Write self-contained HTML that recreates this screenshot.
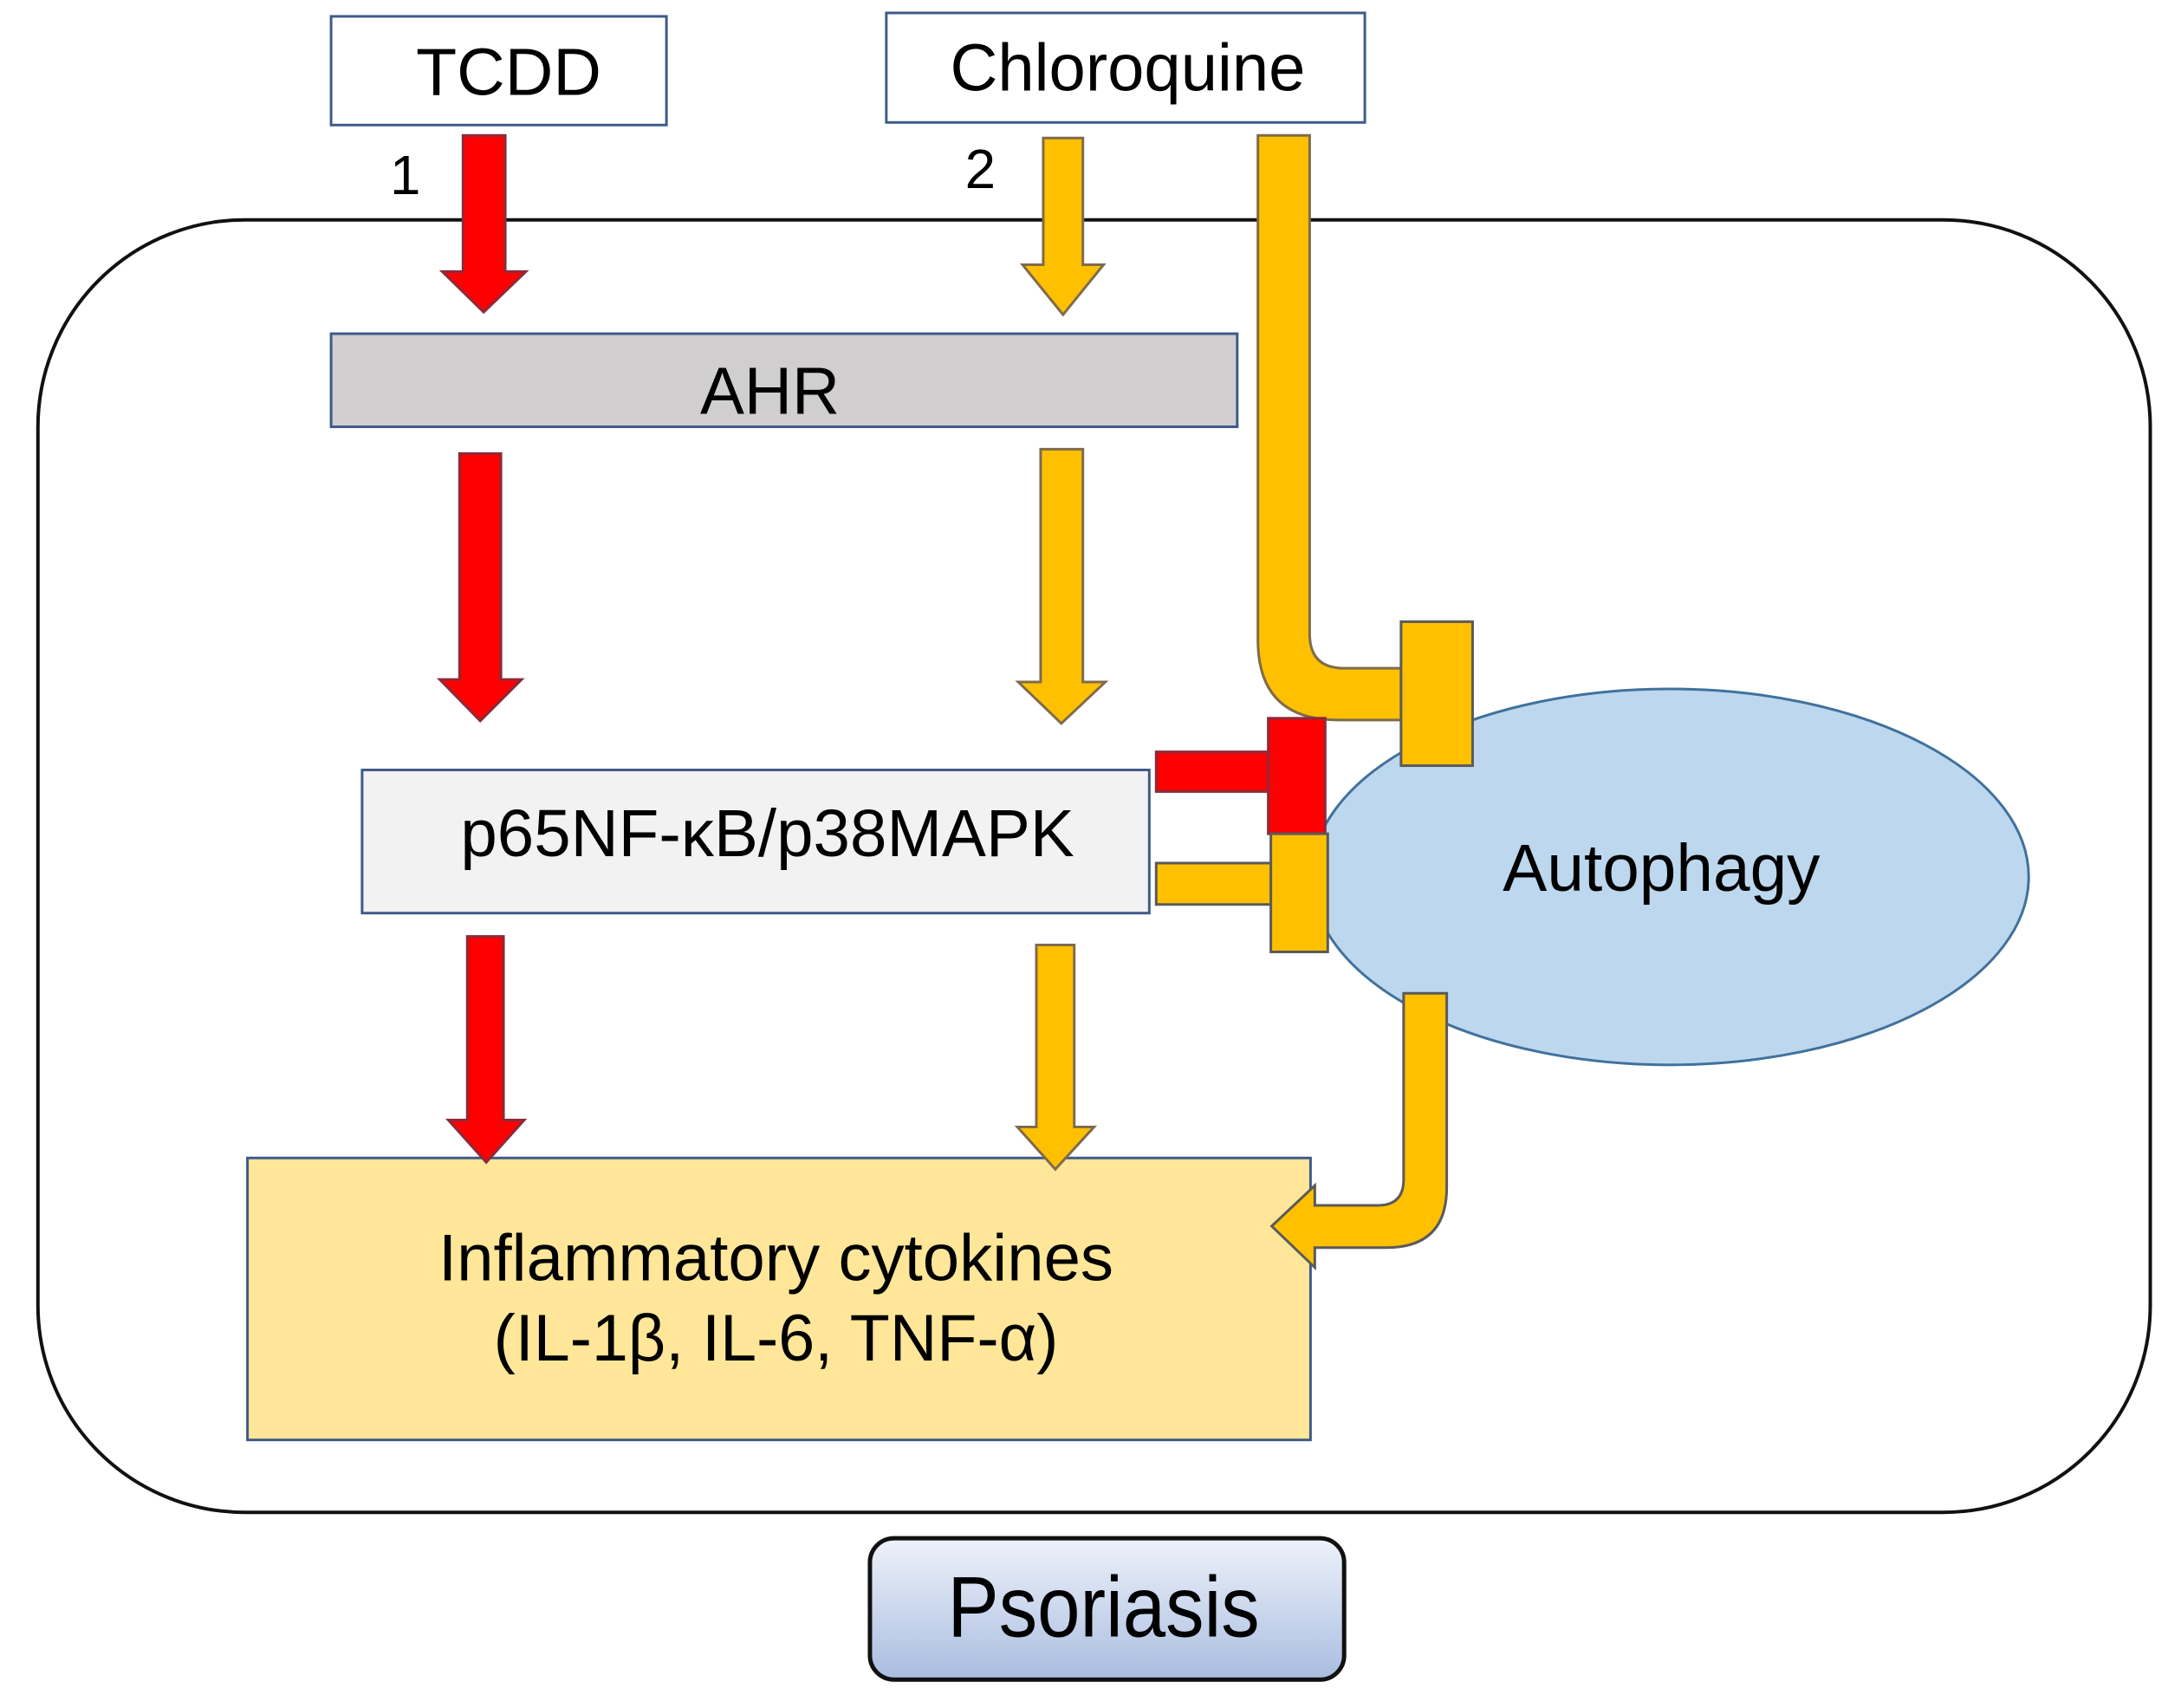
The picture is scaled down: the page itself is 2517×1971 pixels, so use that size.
<!DOCTYPE html>
<html><head><meta charset="utf-8"><style>
html,body{margin:0;padding:0;background:#fff;}
svg{display:block;}
text{font-family:"Liberation Sans",Arial,sans-serif;fill:#000;}
</style></head><body>
<svg width="2517" height="1971" viewBox="0 0 2517 1971" xmlns="http://www.w3.org/2000/svg">
<defs>
<linearGradient id="pg" x1="0" y1="0" x2="0" y2="1">
<stop offset="0" stop-color="#eef2fa"/><stop offset="1" stop-color="#a9bde0"/>
</linearGradient>
</defs>
<g transform="scale(0.995)">
<rect x="44" y="255" width="2450" height="1499" rx="240" ry="240" fill="none" stroke="#111" stroke-width="4"/>
<rect x="384" y="19" width="389" height="126" fill="#fff" stroke="#3f5a8a" stroke-width="3"/>
<text x="590" y="110" font-size="77" text-anchor="middle" textLength="215" lengthAdjust="spacingAndGlyphs">TCDD</text>
<rect x="1028" y="15" width="555" height="127" fill="#fff" stroke="#3f5a8a" stroke-width="3"/>
<text x="1308" y="105" font-size="77" text-anchor="middle" textLength="412" lengthAdjust="spacingAndGlyphs">Chloroquine</text>
<text x="470" y="225" font-size="64" text-anchor="middle">1</text>
<text x="1137" y="218" font-size="64" text-anchor="middle">2</text>
<rect x="384" y="387" width="1051" height="108" fill="#d0cece" stroke="#3f5a8a" stroke-width="3"/>
<text x="893" y="480" font-size="77" text-anchor="middle" textLength="162" lengthAdjust="spacingAndGlyphs">AHR</text>
<rect x="420" y="893" width="913" height="166" fill="#f2f2f2" stroke="#3f5a8a" stroke-width="3"/>
<text x="890" y="993" font-size="77" text-anchor="middle" textLength="712" lengthAdjust="spacingAndGlyphs">p65NF-κB/p38MAPK</text>
<rect x="287" y="1343" width="1233" height="327" fill="#ffe699" stroke="#3f5a8a" stroke-width="3"/>
<text x="900" y="1485" font-size="76" text-anchor="middle" textLength="783" lengthAdjust="spacingAndGlyphs">Inflammatory cytokines</text>
<text x="900" y="1578" font-size="76" text-anchor="middle" textLength="655" lengthAdjust="spacingAndGlyphs">(IL-1β, IL-6, TNF-α)</text>
<ellipse cx="1937" cy="1017" rx="416" ry="218" fill="#bdd7ee" stroke="#41719c" stroke-width="3"/>
<text x="1927" y="1033" font-size="77" text-anchor="middle" textLength="368" lengthAdjust="spacingAndGlyphs">Autophagy</text>
<g stroke-width="3" stroke-linejoin="miter">
<path d="M537,157 L586,157 L586,315 L610,315 L561,362 L513,315 L537,315 Z" fill="#ff0000" stroke="#8b2a3a"/>
<path d="M1210,160 L1256,160 L1256,307 L1280,307 L1233,365 L1186,307 L1210,307 Z" fill="#ffc000" stroke="#7f6b4a"/>
<path d="M533,526 L581,526 L581,788 L605,788 L557,836 L510,788 L533,788 Z" fill="#ff0000" stroke="#8b2a3a"/>
<path d="M1207,521 L1256,521 L1256,791 L1282,791 L1231,839 L1181,791 L1207,791 Z" fill="#ffc000" stroke="#7f6b4a"/>
<path d="M542,1086 L584,1086 L584,1299 L608,1299 L564,1348 L520,1299 L542,1299 Z" fill="#ff0000" stroke="#8b2a3a"/>
<path d="M1202,1096 L1246,1096 L1246,1307 L1269,1307 L1224,1356 L1180,1307 L1202,1307 Z" fill="#ffc000" stroke="#7f6b4a"/>
<path d="M1459,157 L1519,157 L1519,735 Q1519,775 1559,775 L1627,775 L1627,835 L1552,835 Q1459,835 1459,742 Z" fill="#ffc000" stroke="#7f6b4a"/>
<rect x="1625" y="721" width="83" height="167" fill="#ffc000" stroke="#5a5a5a"/>
<rect x="1341" y="872" width="132" height="46" fill="#ff0000" stroke="#8b2a3a"/>
<rect x="1471" y="833" width="66" height="134" fill="#ff0000" stroke="#8b2a3a"/>
<rect x="1341" y="1001" width="135" height="48" fill="#ffc000" stroke="#5a5a5a"/>
<rect x="1474" y="967" width="66" height="137" fill="#ffc000" stroke="#5a5a5a"/>
<path d="M1628,1152 L1678,1152 L1678,1377 Q1678,1447 1608,1447 L1525,1447 L1525,1470 L1475,1422 L1525,1375 L1525,1398 L1598,1398 Q1628,1398 1628,1368 Z" fill="#ffc000" stroke="#5a5a5a"/>
</g>
<rect x="1009" y="1784" width="550" height="164" rx="28" ry="28" fill="url(#pg)" stroke="#111" stroke-width="5"/>
<text x="1280" y="1898" font-size="100" text-anchor="middle" textLength="362" lengthAdjust="spacingAndGlyphs">Psoriasis</text>
</g>
</svg>
</body></html>
